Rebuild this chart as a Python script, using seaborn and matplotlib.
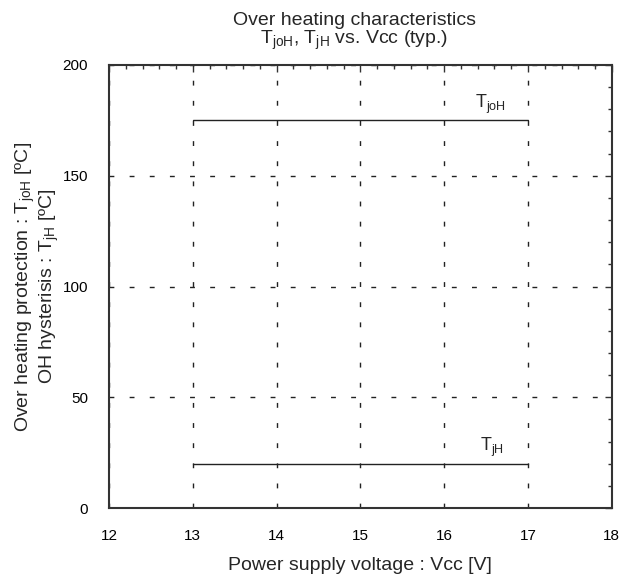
import pandas as pd
import numpy as np
import matplotlib.pyplot as plt
import seaborn as sns
from matplotlib.ticker import MultipleLocator

# datos
vcc = [13, 17]
t_joh = [175, 175]
t_jh = [20, 20]

sns.set_theme(style="white")
plt.rcParams['font.family'] = ['Liberation Sans', 'DejaVu Sans']
plt.rcParams['mathtext.fontset'] = 'custom'
plt.rcParams['mathtext.rm'] = 'Liberation Sans'
plt.rcParams['mathtext.it'] = 'Liberation Sans'

df = pd.DataFrame({'vcc': vcc + vcc,
                   'temp': t_joh + t_jh,
                   'serie': ['TjoH'] * 2 + ['TjH'] * 2})

fig = plt.figure(figsize=(6.32, 5.8), dpi=100)
ax = fig.add_axes([0.1725, 0.124, 0.7955, 0.764])

sns.lineplot(data=df, x='vcc', y='temp', units='serie', estimator=None,
             color='#222222', lw=1.0, ax=ax, legend=False)

ax.set_xlim(12, 18)
ax.set_ylim(0, 200)
ax.xaxis.set_major_locator(MultipleLocator(1))
ax.xaxis.set_minor_locator(MultipleLocator(0.2))
ax.yaxis.set_major_locator(MultipleLocator(50))
ax.yaxis.set_minor_locator(MultipleLocator(10))
ax.tick_params(which='both', direction='in', top=True, right=True,
               color='#333333', labelsize=11, labelcolor='black')
ax.tick_params(which='major', length=5, width=1, pad=15)
ax.tick_params(which='minor', length=3, width=1)
ax.grid(True, which='major', color='#222222', linestyle=(0, (3.5, 11)), lw=1.0)

for s in ax.spines.values():
    s.set_color('#333333')
    s.set_linewidth(1.5)

# etiquetas de las curvas
ax.text(16.55, t_joh[0] + 2, r'T$_{\mathrm{joH}}$', ha='center', va='bottom', fontsize=13)
ax.text(16.57, t_jh[0] + 2, r'T$_{\mathrm{jH}}$', ha='center', va='bottom', fontsize=13)

ax.set_title('Over heating characteristics\n'
             r'T$_{\mathrm{joH}}$, T$_{\mathrm{jH}}$ vs. Vcc (typ.)',
             fontsize=14, pad=15, linespacing=1.0, x=0.488)
ax.set_xlabel('Power supply voltage : Vcc [V]', fontsize=14, labelpad=10)
ax.set_ylabel('Over heating protection : T$_{\\mathrm{joH}}$ [ºC]\n'
              'OH hysterisis : T$_{\\mathrm{jH}}$ [ºC]',
              fontsize=14, labelpad=1, linespacing=1.1)

plt.savefig('out.png', dpi=100)
plt.close()
